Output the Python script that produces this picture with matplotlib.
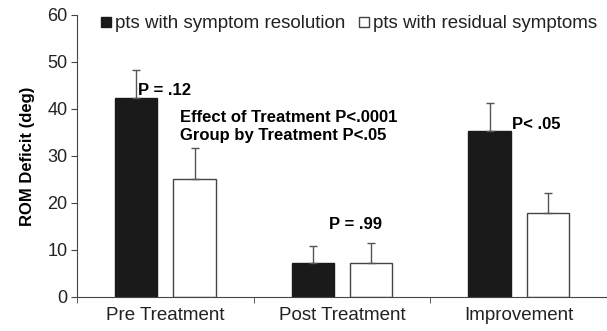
import numpy as np
import matplotlib.pyplot as plt
from matplotlib.patches import Patch

plt.rcParams["font.family"] = "Liberation Sans"

groups = ['Pre Treatment', 'Post Treatment', 'Improvement']
resolved = [42.4, 7.2, 35.3]
resolved_err = [5.9, 3.7, 5.9]
residual = [25.1, 7.2, 17.9]
residual_err = [6.5, 4.2, 4.3]
series_names = ['pts with symptom resolution', 'pts with residual symptoms']

fig = plt.figure(figsize=(6.07, 3.31), dpi=100)
ax = fig.add_axes([0.127, 0.103, 0.873, 0.852])

x = np.arange(len(groups))
w = 0.24
off = 0.165
ekw = dict(ecolor='#555555', elinewidth=1, capsize=3, capthick=1)
ax.bar(x - off, resolved, w, color='#1a1a1a', edgecolor='#1a1a1a', linewidth=1,
       yerr=[np.zeros(3), resolved_err], error_kw=ekw)
ax.bar(x + off, residual, w, color='white', edgecolor='#444444', linewidth=1,
       yerr=[np.zeros(3), residual_err], error_kw=ekw)

ax.set_xlim(-0.5, 2.5)
ax.set_ylim(0, 60)
ax.set_yticks(range(0, 61, 10))
ax.set_xticks(x)
ax.set_xticklabels(groups, fontsize=13.5, color='#222222')
ax.set_xticks([-0.5, 0.5, 1.5], minor=True)
ax.tick_params(axis='x', which='major', length=0, pad=7)
ax.tick_params(axis='x', which='minor', length=4, direction='out', color='#444444')
ax.tick_params(axis='y', labelsize=13, length=4, pad=3, color='#444444', labelcolor='#222222')
for s in ['top', 'right']:
    ax.spines[s].set_visible(False)
for s in ['left', 'bottom']:
    ax.spines[s].set_color('#444444')
ax.set_ylabel('ROM Deficit (deg)', fontsize=12, fontweight='bold', labelpad=9)

handles = [Patch(facecolor='#1a1a1a', edgecolor='#1a1a1a'),
           Patch(facecolor='white', edgecolor='#444444')]
leg = fig.legend(handles, series_names, loc='center left', bbox_to_anchor=(101 / 607, 1 - 24 / 331),
                 ncol=2, frameon=False, fontsize=13.5, handlelength=0.55, handleheight=0.4,
                 handletextpad=0.2, columnspacing=0.7, borderpad=0, borderaxespad=0)
for t in leg.get_texts():
    t.set_color('#222222')

ax.text(-0.155, 44.0, 'P = .12', fontsize=12, fontweight='bold', va='center')
ax.text(0.083, 38.1, 'Effect of Treatment P<.0001', fontsize=12, fontweight='bold', va='center')
ax.text(0.083, 34.4, 'Group by Treatment P<.05', fontsize=12, fontweight='bold', va='center')
ax.text(1.079, 15.5, 'P = .99', fontsize=12, fontweight='bold', va='center', ha='center')
ax.text(1.962, 36.6, 'P< .05', fontsize=12, fontweight='bold', va='center')

fig.savefig('out.png', dpi=100)
